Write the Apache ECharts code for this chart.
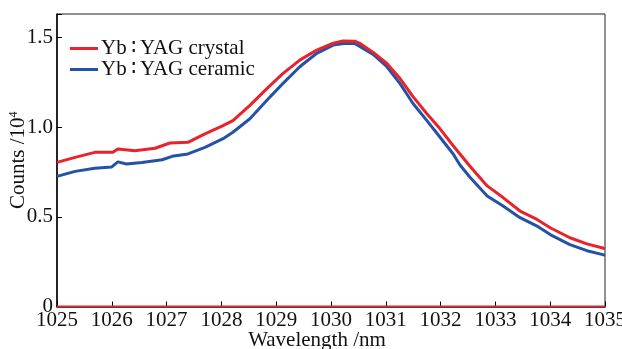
<!DOCTYPE html>
<html><head><meta charset="utf-8">
<script src="https://cdn.jsdelivr.net/npm/echarts@6/dist/echarts.min.js"></script>
<style>html,body{margin:0;padding:0;background:#fff}#c{width:622px;height:349px}</style>
</head><body><div id="c"></div>
<script>
const crystalWl = [1025.00,1025.33,1025.69,1026.02,1026.11,1026.42,1026.79,1027.06,1027.39,1027.70,1028.01,1028.21,1028.52,1028.83,1029.12,1029.43,1029.74,1030.04,1030.22,1030.44,1030.53,1030.77,1031.02,1031.26,1031.50,1031.75,1031.99,1032.23,1032.54,1032.85,1033.14,1033.45,1033.76,1034.00,1034.36,1034.67,1034.96,1035.00];
const crystalVal = [0.803,0.831,0.859,0.859,0.878,0.868,0.882,0.911,0.915,0.962,1.005,1.036,1.121,1.214,1.298,1.373,1.429,1.467,1.480,1.478,1.466,1.416,1.354,1.270,1.168,1.074,0.990,0.896,0.780,0.672,0.607,0.532,0.485,0.439,0.383,0.349,0.326,0.322];
const ceramicWl = [1025.00,1025.33,1025.69,1026.00,1026.11,1026.27,1026.55,1026.92,1027.10,1027.39,1027.70,1028.03,1028.21,1028.52,1028.83,1029.12,1029.43,1029.74,1030.04,1030.27,1030.44,1030.77,1031.02,1031.26,1031.50,1031.75,1031.99,1032.23,1032.35,1032.54,1032.85,1033.14,1033.45,1033.76,1034.00,1034.36,1034.67,1034.96,1035.00];
const ceramicVal = [0.725,0.753,0.770,0.778,0.806,0.794,0.803,0.818,0.837,0.850,0.887,0.935,0.971,1.046,1.149,1.242,1.336,1.411,1.457,1.467,1.465,1.405,1.336,1.242,1.130,1.036,0.943,0.850,0.790,0.719,0.616,0.560,0.495,0.448,0.401,0.345,0.311,0.289,0.285];
const baselineWl = [1025, 1035];
const baselineVal = [0, 0];
const seriesNames = ['Yb\u2009\u2236\u2009YAG crystal', 'Yb\u2009\u2236\u2009YAG ceramic'];
const yTickLabels = {0: '0', 0.5: '0.5', 1: '1.0', 1.5: '1.5'};

const zip = (a, b) => a.map((v, i) => [v, b[i]]);
const RED = '#e8232b', BLUE = '#2453a6';
const FONT = '"Liberation Serif", "DejaVu Serif", serif';

const chart = echarts.init(document.getElementById('c'));
chart.setOption({
  animation: false,
  grid: {left: 57, right: 17, top: 14, bottom: 42.5, show: true, borderColor: '#222', borderWidth: 1,
         backgroundColor: 'transparent', containLabel: false, outerBoundsMode: 'none'},
  legend: {
    data: seriesNames, orient: 'vertical', left: 65, top: 33,
    icon: 'rect', itemWidth: 28, itemHeight: 3, itemGap: 0,
    textStyle: {fontFamily: FONT, fontSize: 21, color: '#111', padding: [0, 0, 0, -2]}
  },
  xAxis: {
    type: 'value', min: 1025, max: 1035, interval: 1,
    name: 'Wavelength /nm', nameLocation: 'middle', nameGap: 23, nameMoveOverlap: false,
    nameTextStyle: {fontFamily: FONT, fontSize: 21, color: '#111', padding: [0, 28, 0, 0]},
    axisLine: {lineStyle: {color: '#000', width: 1.5}},
    axisTick: {inside: true, length: 5, lineStyle: {color: '#000'}},
    axisLabel: {fontFamily: FONT, fontSize: 21, color: '#111', margin: 3, formatter: v => String(v)},
    splitLine: {show: false}
  },
  yAxis: {
    type: 'value', min: 0, max: 1.63, interval: 0.5,
    name: 'Counts /10{sup|4}', nameLocation: 'middle', nameGap: 28, nameMoveOverlap: false,
    nameTextStyle: {fontFamily: FONT, fontSize: 21, color: '#111',
      rich: {sup: {fontFamily: FONT, fontSize: 12, color: '#111', verticalAlign: 'top', lineHeight: 12, padding: [0, 0, 8, 0]}}},
    axisLine: {lineStyle: {color: '#000', width: 1.5}},
    axisTick: {inside: true, length: 5, lineStyle: {color: '#000'}},
    axisLabel: {fontFamily: FONT, fontSize: 21, color: '#111', margin: 4,
      formatter: v => { const k = Math.round(v * 10) / 10; return (k in yTickLabels && Math.abs(v - k) < 1e-6) ? yTickLabels[k] : ''; }},
    splitLine: {show: false}
  },
  series: [
    {name: seriesNames[0], type: 'line', data: zip(crystalWl, crystalVal), symbol: 'none', lineStyle: {color: RED, width: 3}, itemStyle: {color: RED}, z: 3},
    {name: seriesNames[1], type: 'line', data: zip(ceramicWl, ceramicVal), symbol: 'none', lineStyle: {color: BLUE, width: 3}, itemStyle: {color: BLUE}, z: 2},
    {name: 'baseline', type: 'line', data: zip(baselineWl, baselineVal), symbol: 'none', lineStyle: {color: RED, width: 2}, z: 1, silent: true}
  ]
});
</script></body></html>
